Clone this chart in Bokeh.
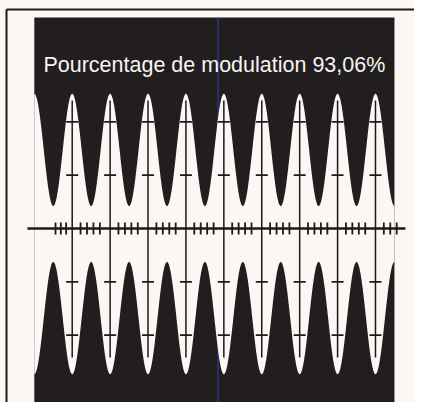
import numpy as np
from bokeh.plotting import figure
from bokeh.models import Range1d
from bokeh.core.properties import value
from bokeh.embed import file_html
from bokeh.resources import INLINE

# ---- values ----
# x unit = one modulation period, y unit = one vertical graticule division
title_text = "Pourcentage de modulation 93,06%"
screen_x = [0.0, 9.5]            # dark screen left / right edge
screen_y = [-3.38, 3.96]         # dark screen bottom / top edge
envelope_center = -0.103         # centre line of the modulated signal
envelope_peak = 2.63             # envelope half-height at maximum
envelope_trough = 0.525          # envelope half-height at minimum
grid_x = [1, 2, 3, 4, 5, 6, 7, 8, 9]
grid_marks_y = [-2, -1, 1, 2]
grid_line_y = [-2.42, 2.40]
axis_x = [-0.18, 9.79]
minor_ticks = [0.56, 0.70, 0.84,
               1.22, 1.39, 1.56, 1.73,
               2.22, 2.39, 2.56, 2.73,
               3.22, 3.39, 3.56, 3.73,
               4.22, 4.39, 4.56, 4.73,
               5.22, 5.39, 5.56, 5.73,
               6.22, 6.39, 6.56, 6.73,
               7.22, 7.39, 7.56, 7.73,
               8.22, 8.39, 8.56, 8.73,
               9.22, 9.39, 9.56]
scan_line_x = 4.846              # bluish scanning streak

# ---- styles ----
CREAM = "#fcf6f4"
DARK = "#221e1f"
LINE = "#1c1a1a"

p = figure(width=414, height=402,
           x_range=Range1d(-0.8916, 10.0290), y_range=Range1d(-3.2645, 4.2777),
           output_backend="svg", toolbar_location=None, min_border=0,
           x_axis_location=None, y_axis_location=None)
p.grid.visible = False
p.outline_line_color = None
p.background_fill_color = CREAM
p.border_fill_color = CREAM

# outer frame (top and left edges visible in the crop)
frame_left, frame_top = -0.733, 4.109
p.line([frame_left, 10.3], [frame_top, frame_top], line_color=LINE, line_width=2)
p.line([frame_left, frame_left], [frame_top, -3.5], line_color=LINE, line_width=2)

# dark screen
p.quad(left=screen_x[0], right=screen_x[1], bottom=screen_y[0], top=screen_y[1],
       fill_color=DARK, line_color=None)
p.line([scan_line_x, scan_line_x], screen_y, line_color="#2b3a8f", line_width=1.6, line_alpha=0.8)

# white interior of the AM envelope
A = (envelope_peak + envelope_trough) / 2
m = (envelope_peak - envelope_trough) / (envelope_peak + envelope_trough)
xs = np.linspace(screen_x[0], screen_x[1], 1500)
env = A * (1 + m * np.cos(2 * np.pi * xs))
p.varea(x=xs, y1=envelope_center - env, y2=envelope_center + env, fill_color=CREAM)

# graticule
p.segment(x0=grid_x, y0=[grid_line_y[0]] * len(grid_x), x1=grid_x, y1=[grid_line_y[1]] * len(grid_x),
          line_color=LINE, line_width=1.5)
cx = [gx for gx in grid_x for _ in grid_marks_y]
cy = [gy for _ in grid_x for gy in grid_marks_y]
half_w = 0.158
p.segment(x0=[c - half_w for c in cx], y0=cy, x1=[c + half_w for c in cx], y1=cy,
          line_color=LINE, line_width=1.8)
p.line(axis_x, [0, 0], line_color=LINE, line_width=2.5)
tick_h = 0.1126
p.segment(x0=minor_ticks, y0=[-tick_h] * len(minor_ticks), x1=minor_ticks, y1=[tick_h] * len(minor_ticks),
          line_color=LINE, line_width=1.8)

# title
p.text(x=[4.75], y=[3.06], text=[title_text], text_color="#f8f4f2",
       text_font=value("Liberation Sans"), text_font_size="21.5px",
       text_align="center", text_baseline="alphabetic")

open("out.html", "w").write(file_html(p, INLINE))
